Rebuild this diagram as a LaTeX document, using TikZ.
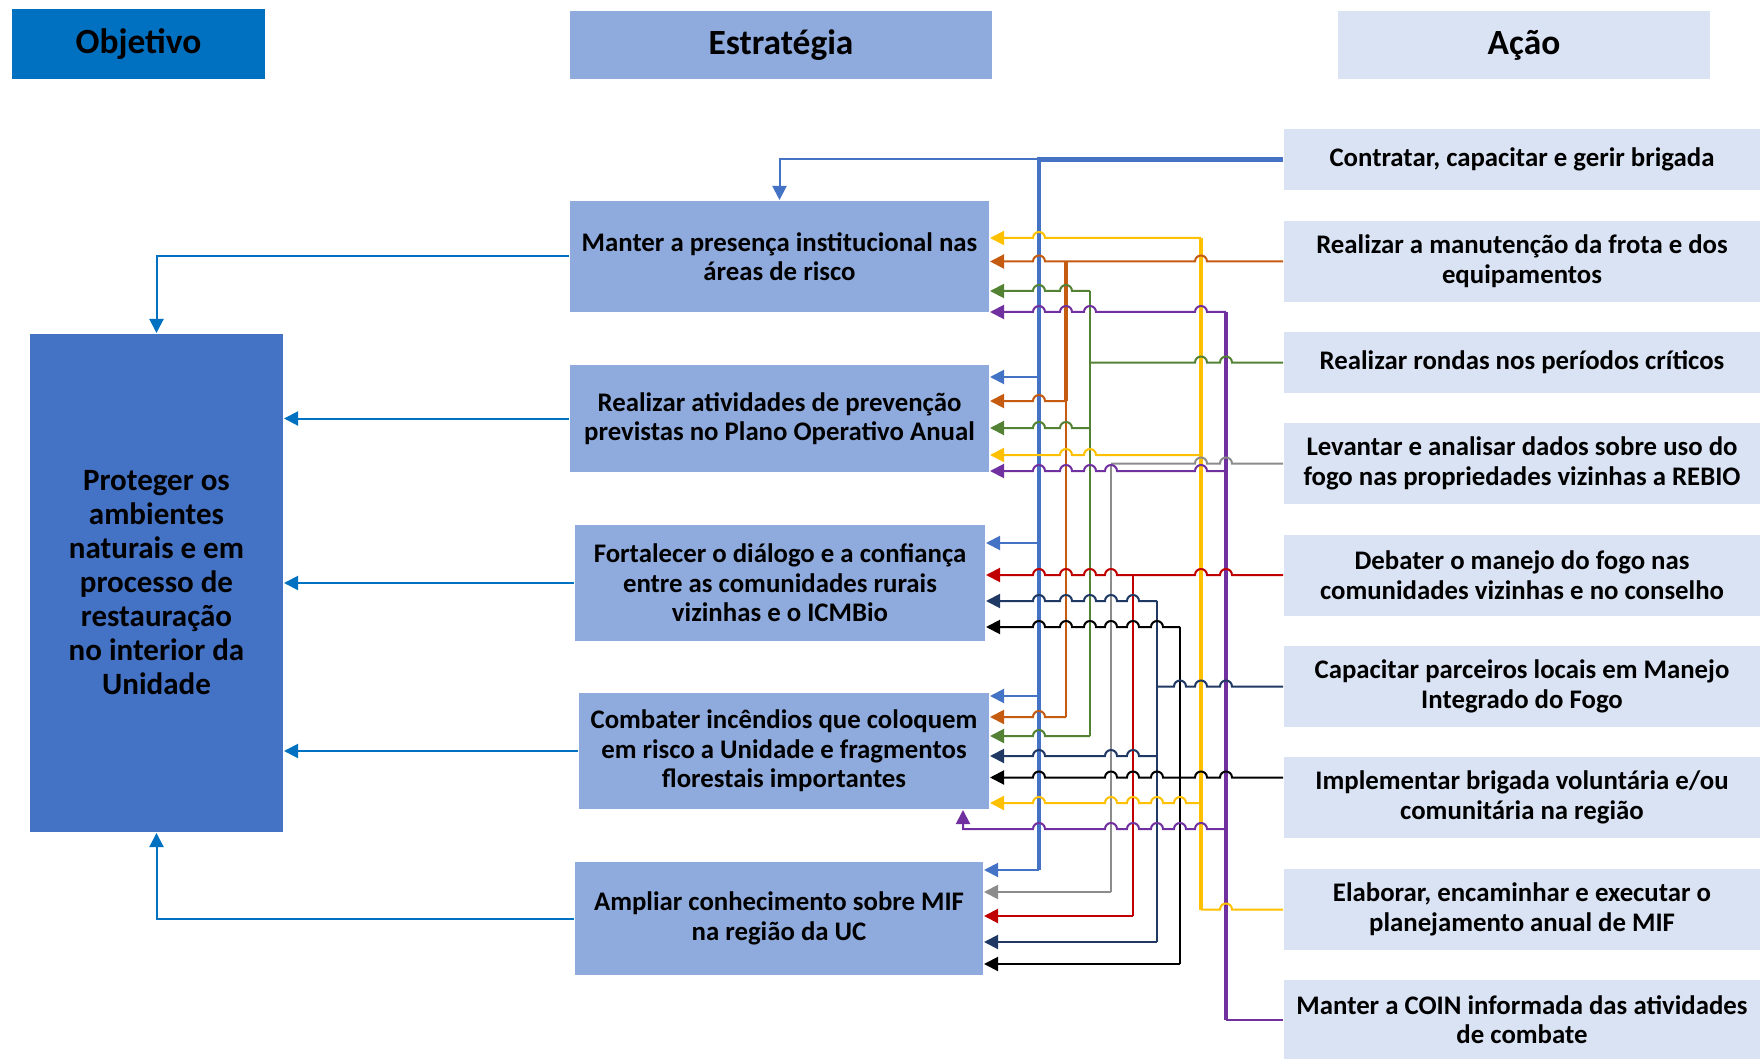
\documentclass[tikz,border=0pt]{standalone}
\usepackage{fontspec}
\setmainfont{Carlito}
\usetikzlibrary{arrows.meta}

\definecolor{objblue}{HTML}{0070C0}
\definecolor{objfill}{HTML}{4472C4}
\definecolor{estfill}{HTML}{8FAADC}
\definecolor{acaofill}{HTML}{DAE3F3}
\definecolor{lblue}{HTML}{4472C4}
\definecolor{lorange}{HTML}{C55A11}
\definecolor{lgreen}{HTML}{548235}
\definecolor{lgray}{HTML}{8C8C8C}
\definecolor{lred}{HTML}{C00000}
\definecolor{lnavy}{HTML}{1F3864}
\definecolor{lyellow}{HTML}{FFC000}
\definecolor{lpurple}{HTML}{7030A0}

% line hops on row #1 over the verticals at x = #2
\newcommand{\hops}[2]{\foreach \hx in {#2}{-- (\hx+6,#1) arc[start angle=0,end angle=180,radius=3pt]}}

\begin{document}
\begin{tikzpicture}[x=0.5pt,y=-0.5pt,>={Triangle[length=7pt,width=7pt]},line width=1pt,
  head/.style={minimum height=34pt,font=\fontsize{17.7}{20}\selectfont\bfseries},
  estbox/.style={fill=estfill,minimum width=205pt,minimum height=58pt,align=center,font=\fontsize{13.4}{14.8}\selectfont\bfseries},
  acaobox/.style={fill=acaofill,minimum width=238pt,minimum height=40.5pt,align=center,font=\fontsize{13.4}{14.8}\selectfont\bfseries},
  bus/.style={line width=2.2pt}]

  \useasboundingbox (0,0) rectangle (1762,1059);

  \node[head,fill=objblue,minimum width=126.5pt,minimum height=35pt] (hobj) at (138.5,44) {Objetivo};
  \node[head,fill=estfill,minimum width=211pt] (hest) at (781,45) {Estratégia};
  \node[head,fill=acaofill,minimum width=186pt] (hacao) at (1524,45) {Ação};

  \node[fill=objfill,minimum width=126.5pt,minimum height=249pt,align=center,font=\fontsize{15.5}{17}\selectfont\bfseries] (obj) at (156.5,583) {Proteger os\\ambientes\\naturais e em\\processo de\\restauração\\no interior da\\Unidade};

  \node[estbox,minimum width=209.5pt,minimum height=55.5pt] (s1) at (779.5,256.5) {Manter a presença institucional nas\\áreas de risco};
  \node[estbox,minimum width=209.5pt,minimum height=53.5pt] (s2) at (779.5,418.5) {Realizar atividades de prevenção\\previstas no Plano Operativo Anual};
  \node[estbox] (s3) at (780,583) {Fortalecer o diálogo e a confiança\\entre as comunidades rurais\\vizinhas e o ICMBio};
  \node[estbox] (s4) at (784,751) {Combater incêndios que coloquem\\em risco a Unidade e fragmentos\\florestais importantes};
  \node[estbox,minimum width=204pt,minimum height=56.5pt] (s5) at (779,918.5) {Ampliar conhecimento sobre MIF\\na região da UC};

  \node[acaobox,minimum height=30.5pt] (a1) at (1522,159.5) {Contratar, capacitar e gerir brigada};
  \node[acaobox] (a2) at (1522,261.5) {Realizar a manutenção da frota e dos\\equipamentos};
  \node[acaobox,minimum height=30.5pt] (a3) at (1522,362.5) {Realizar rondas nos períodos críticos};
  \node[acaobox] (a4) at (1522,463.5) {Levantar e analisar dados sobre uso do\\fogo nas propriedades vizinhas a REBIO};
  \node[acaobox] (a5) at (1522,575) {Debater o manejo do fogo nas\\comunidades vizinhas e no conselho};
  \node[acaobox] (a6) at (1522,686.5) {Capacitar parceiros locais em Manejo\\Integrado do Fogo};
  \node[acaobox] (a7) at (1522,797.5) {Implementar brigada voluntária e/ou\\comunitária na região};
  \node[acaobox] (a8) at (1522,909.5) {Elaborar, encaminhar e executar o\\planejamento anual de MIF};
  \node[acaobox,minimum height=39.5pt] (a9) at (1522,1019.5) {Manter a COIN informada das atividades\\de combate};

  % estrategias -> objetivo
  \draw[objblue,->] (s1.west) -| (obj.north);
  \draw[objblue,->] (s2.west) -- (obj.east |- s2.west);
  \draw[objblue,->] (s3.west) -- (obj.east |- s3.west);
  \draw[objblue,->] (s4.west) -- (obj.east |- s4.west);
  \draw[objblue,->] (s5.west) -| (obj.south);

  % vertical buses
  \draw[lblue,->] (a1.west) -| (s1.north);
  \draw[lblue,bus] (a1.west) -| (1039,870);
  \draw[lorange,bus] (1066,261.5) -- (1066,401);
  \draw[lorange] (1066,401) -- (1066,717);
  \draw[lgreen] (1090,291) -- (1090,736);
  \draw[lgray] (1111,463.5) -- (1111,892);
  \draw[lred] (1133,575) -- (1133,916);
  \draw[lnavy] (1157,601) -- (1157,942);
  \draw (1180,627) -- (1180,964);
  \draw[lyellow,bus] (1201,238) -- (1201,909.5);
  \draw[lpurple,bus] (1226,312) -- (1226,1019.5);

  % acoes -> buses
  \draw[lorange,->] (a2.west) \hops{261.5}{1201,1039} -- (s1.east |- a2.west);
  \draw[lgreen] (a3.west) \hops{362.5}{1226,1201} -- (1090,362.5);
  \draw[lgray] (a4.west) \hops{463.5}{1226,1201} -- (1111,463.5);
  \draw[lred,->] (a5.west) \hops{575}{1226,1201,1111,1090,1066,1039} -- (s3.east |- a5.west);
  \draw[lnavy] (a6.west) \hops{686.5}{1226,1201,1180} -- (1157,686.5);
  \draw[->] ([yshift=10pt]a7.west) \hops{777.5}{1226,1201,1157,1133,1111,1039} -- (s4.east |- 0,777.5);
  \draw[lyellow] (a8.west) \hops{909.5}{1226} -- (1201,909.5);
  \draw[lpurple] (a9.west) -- (1226,1019.5);

  % buses -> estrategias
  \draw[lblue,->] (1039,377) -- (s2.east |- 0,377);
  \draw[lblue,->] (1039,543) -- (s3.east |- 0,543);
  \draw[lblue,->] (1039,696) -- (s4.east |- 0,696);
  \draw[lblue,->] (1039,870) -- (s5.east |- 0,870);

  \draw[lorange,->] (1066,401) \hops{401}{1039} -- (s2.east |- 0,401);
  \draw[lorange,->] (1066,717) \hops{717}{1039} -- (s4.east |- 0,717);

  \draw[lgreen,->] (1090,291) \hops{291}{1066,1039} -- (s1.east |- 0,291);
  \draw[lgreen,->] (1090,428) \hops{428}{1066,1039} -- (s2.east |- 0,428);
  \draw[lgreen,->] (1090,736) \hops{736}{1039} -- (s4.east |- 0,736);

  \draw[lgray,->] (1111,892) -- (s5.east |- 0,892);

  \draw[lred,->] (1133,916) -- (s5.east |- 0,916);

  \draw[lnavy,->] (1157,601) \hops{601}{1133,1111,1090,1066,1039} -- (s3.east |- 0,601);
  \draw[lnavy,->] (1157,756) \hops{756}{1133,1111,1039} -- (s4.east |- 0,756);
  \draw[lnavy,->] (1157,942) -- (s5.east |- 0,942);

  \draw[->] (1180,627) \hops{627}{1157,1133,1111,1090,1066,1039} -- (s3.east |- 0,627);
  \draw[->] (1180,964) -- (s5.east |- 0,964);

  \draw[lyellow,->] (1201,238) \hops{238}{1039} -- (s1.east |- 0,238);
  \draw[lyellow,->] (1201,455) \hops{455}{1090,1066} -- (s2.east |- 0,455);
  \draw[lyellow,->] (1201,803) \hops{803}{1180,1157,1133,1111,1039} -- (s4.east |- 0,803);

  \draw[lpurple,->] (1226,312) \hops{312}{1201,1090,1066,1039} -- (s1.east |- 0,312);
  \draw[lpurple,->] (1226,471) \hops{471}{1201,1111,1090,1066,1039} -- (s2.east |- 0,471);
  \draw[lpurple,->] (1226,829) \hops{829}{1201,1180,1157,1133,1111,1039} -| (963,0 |- s4.south);
\end{tikzpicture}
\end{document}
